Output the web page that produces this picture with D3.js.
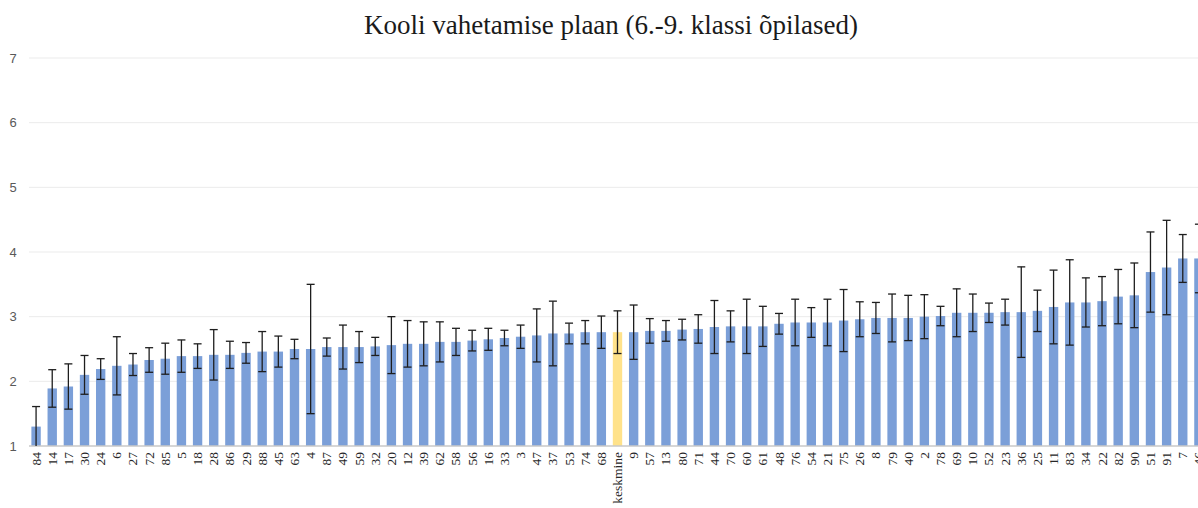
<!DOCTYPE html>
<html>
<head>
<meta charset="utf-8">
<script src="https://cdn.jsdelivr.net/npm/d3@7"></script>
<style>
html,body{margin:0;padding:0;background:#fff;overflow:hidden;}
svg{display:block;}
</style>
</head>
<body>
<script>
const title = "Kooli vahetamise plaan (6.-9. klassi õpilased)";
const categories = ["84","14","17","30","24","6","27","72","85","5","18","28","86","29","88","45","63","4",
  "87","49","59","32","20","12","39","62","58","56","16","33","3","47","37","53","74","68",
  "keskmine",
  "9","57","13","80","71","44","70","60","61","48","76","54","21","75","26","8","79","40",
  "2","78","69","10","52","23","36","25","11","83","34","22","82","90","51","91","7","46"];
const means = [1.30,1.89,1.92,2.10,2.19,2.24,2.26,2.33,2.35,2.39,2.39,2.41,2.41,2.44,2.46,2.46,2.50,2.50,
  2.53,2.53,2.53,2.54,2.56,2.58,2.58,2.61,2.61,2.63,2.65,2.67,2.69,2.71,2.74,2.74,2.76,2.76,
  2.76,
  2.76,2.78,2.78,2.80,2.81,2.84,2.85,2.85,2.85,2.89,2.91,2.91,2.91,2.94,2.96,2.98,2.98,2.98,
  3.00,3.01,3.06,3.06,3.06,3.07,3.07,3.09,3.15,3.22,3.22,3.24,3.31,3.33,3.69,3.76,3.90,3.90];
const errors = [0.31,0.29,0.35,0.30,0.16,0.45,0.17,0.19,0.24,0.25,0.19,0.39,0.21,0.16,0.31,0.24,0.15,1.00,
  0.14,0.34,0.24,0.14,0.44,0.36,0.34,0.31,0.21,0.16,0.17,0.12,0.18,0.41,0.50,0.16,0.18,0.25,
  0.33,
  0.42,0.19,0.16,0.16,0.22,0.41,0.24,0.42,0.31,0.16,0.36,0.23,0.36,0.48,0.27,0.24,0.37,0.35,
  0.34,0.15,0.37,0.29,0.15,0.20,0.70,0.32,0.57,0.66,0.38,0.38,0.42,0.50,0.62,0.73,0.37,0.53];
const yTicks = [1,2,3,4,5,6,7];
const highlight = "keskmine";

const W = 1198, H = 508;
const svg = d3.select("body").append("svg").attr("width", W).attr("height", H);

const x = d3.scaleBand().domain(categories).range([28, 1207]).paddingInner(0.42).paddingOuter(0.21);
const y = d3.scaleLinear().domain([1, 7]).range([446, 58]);

// title
svg.append("text").attr("x", 611).attr("y", 34).attr("text-anchor", "middle")
  .style("font-family", "'Liberation Serif','Times New Roman',serif").style("font-size", "27px")
  .style("fill", "#1a1a1a").text(title);

// gridlines
svg.append("g").selectAll("line").data(yTicks.filter(t => t > 1)).join("line")
  .attr("x1", 29).attr("x2", W).attr("y1", d => y(d)).attr("y2", d => y(d))
  .attr("stroke", "#ebebeb").attr("stroke-width", 1);

// y labels
svg.append("g").selectAll("text").data(yTicks).join("text")
  .attr("x", 13).attr("y", d => y(d) + 4.5).attr("text-anchor", "middle")
  .style("font-family", "'Liberation Sans','DejaVu Sans',sans-serif").style("font-size", "13px")
  .style("fill", "#595959").text(d => d);

// bars
const data = categories.map((c, i) => ({c, m: means[i], e: errors[i]}));
svg.append("g").selectAll("rect").data(data).join("rect")
  .attr("x", d => x(d.c)).attr("width", x.bandwidth())
  .attr("y", d => y(d.m)).attr("height", d => y(1) - y(d.m))
  .attr("fill", d => d.c === highlight ? "#ffe28a" : "#7b9fd8");

// axis line
svg.append("line").attr("x1", 29).attr("x2", W).attr("y1", y(1)).attr("y2", y(1))
  .attr("stroke", "#c8c8c8").attr("stroke-width", 1.5);

// error bars
const eg = svg.append("g").attr("stroke", "#1e1e1e").attr("stroke-width", 1.3);
data.forEach(d => {
  const cx = x(d.c) + x.bandwidth() / 2;
  const hi = y(d.m + d.e), lo = y(Math.max(1, d.m - d.e));
  eg.append("line").attr("x1", cx).attr("x2", cx).attr("y1", hi).attr("y2", lo);
  eg.append("line").attr("x1", cx - 4).attr("x2", cx + 4).attr("y1", hi).attr("y2", hi);
  if (d.m - d.e > 1) eg.append("line").attr("x1", cx - 4).attr("x2", cx + 4).attr("y1", lo).attr("y2", lo);
});

// x labels
svg.append("g").selectAll("text").data(categories).join("text")
  .attr("transform", d => `translate(${x(d) + x.bandwidth() / 2 + 4.5},452) rotate(-90)`)
  .attr("text-anchor", "end")
  .style("font-family", "'Liberation Serif','Times New Roman',serif").style("font-size", "13.5px")
  .style("fill", "#262626").text(d => d);
</script>
</body>
</html>
